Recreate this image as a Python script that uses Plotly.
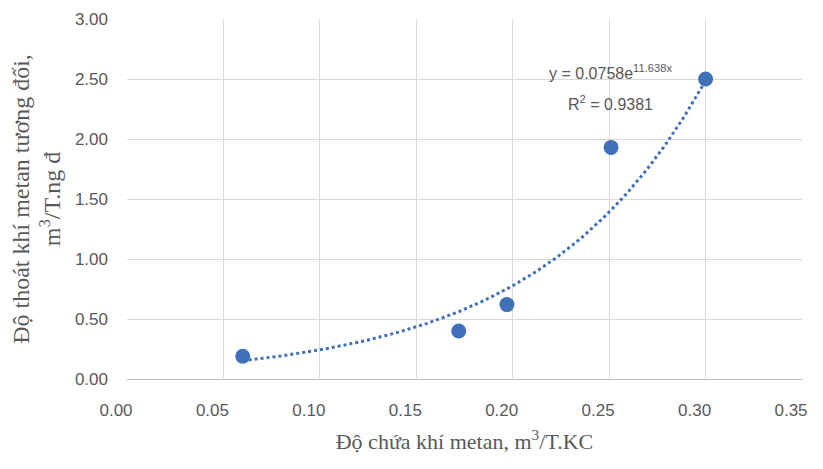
import numpy as np
import plotly.graph_objects as go

# Data
methane_content = [0.060, 0.172, 0.197, 0.251, 0.300]   # m3/T.KC
relative_emission = [0.19, 0.40, 0.62, 1.93, 2.50]      # m3/T.ng d

# Exponential trendline coefficients shown on chart
fit_a = 0.0758
fit_b = 11.638
fit_r2 = 0.9381

x_ticks = [0.00, 0.05, 0.10, 0.15, 0.20, 0.25, 0.30, 0.35]
y_ticks = [0.00, 0.50, 1.00, 1.50, 2.00, 2.50, 3.00]

xt = np.linspace(min(methane_content), max(methane_content), 200)
yt = fit_a * np.exp(fit_b * xt)

blue = "#3f70b8"
gray = "#595959"
tick_font = dict(family="Liberation Sans, Arial, sans-serif", size=17, color=gray)
ann_font = dict(family="Liberation Sans, Arial, sans-serif", size=16, color=gray)

fig = go.Figure()
fig.add_trace(go.Scatter(x=xt, y=yt, mode="lines",
                         line=dict(color=blue, width=3, dash="dot"),
                         hoverinfo="skip", showlegend=False))
fig.add_trace(go.Scatter(x=methane_content, y=relative_emission, mode="markers",
                         marker=dict(color=blue, size=15), showlegend=False))

fig.add_annotation(x=0.2508, y=2.56, xref="x", yref="y",
                   text=f"y = {fit_a}e<sup>{fit_b}x</sup>", showarrow=False, font=ann_font)
fig.add_annotation(x=0.2508, y=2.30, xref="x", yref="y",
                   text=f"R<sup>2</sup> = {fit_r2}", showarrow=False, font=ann_font)

fig.update_layout(
    width=815, height=461,
    margin=dict(l=119, r=21, t=11, b=90),
    plot_bgcolor="white", paper_bgcolor="white",
    xaxis=dict(range=[0, 0.35], tickvals=x_ticks,
               ticktext=[f"{v:.2f}" for v in x_ticks],
               showgrid=True, gridcolor="#d9d9d9", gridwidth=1,
               zeroline=False, showline=True, linecolor="#bfbfbf", linewidth=1,
               tickfont=tick_font, ticklabelstandoff=16, ticklabelshift=-11,
               automargin=False,
               title=dict(text="Độ chứa khí metan, m<sup>3</sup>/T.KC",
                          font=dict(family="Liberation Serif, serif", size=22, color=gray),
                          standoff=14)),
    yaxis=dict(range=[0, 3.0], tickvals=y_ticks,
               ticktext=[f"{v:.2f}" for v in y_ticks],
               showgrid=True, gridcolor="#d9d9d9", gridwidth=1,
               zeroline=False, showline=False,
               tickfont=tick_font, ticklabelstandoff=18, automargin=False,
               title=dict(text="Độ thoát khí metan tương đối,<br>m<sup>3</sup>/T.ng đ",
                          font=dict(family="Liberation Serif, serif", size=24, color=gray),
                          standoff=12)),
)

fig.write_html("out.html")
